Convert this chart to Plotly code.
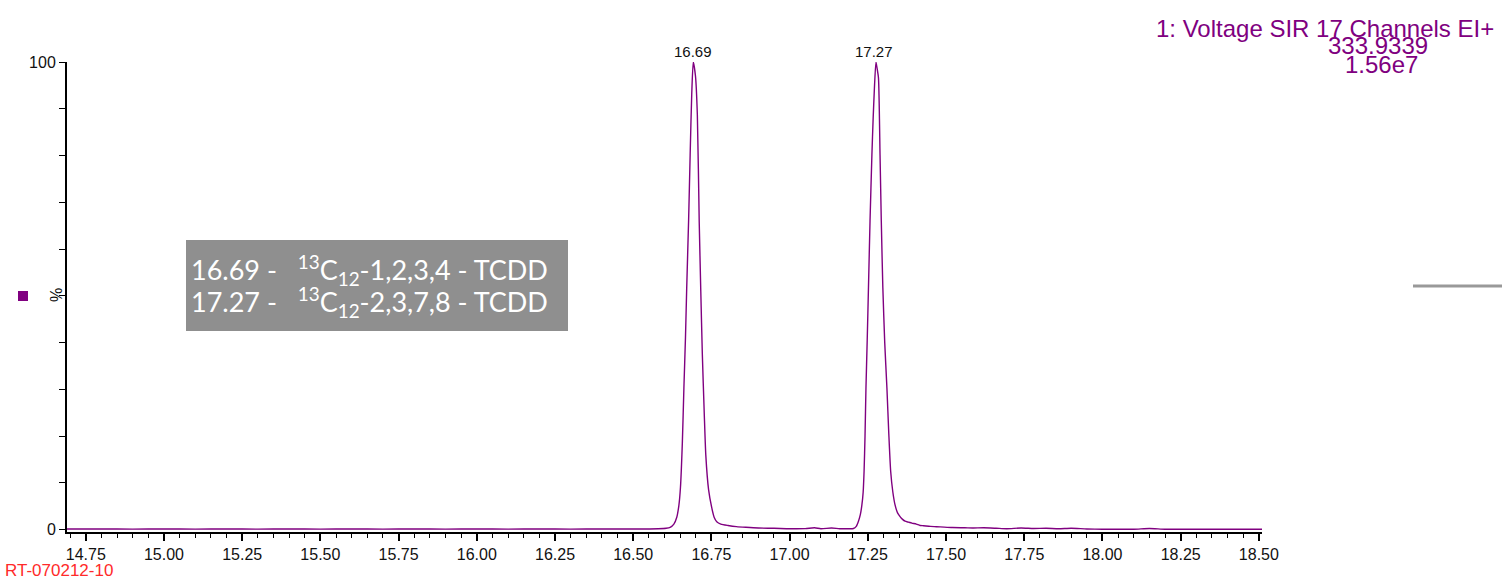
import plotly.graph_objects as go

# Retention time (min) and relative intensity (%) of the SIR chromatogram trace
rt = [14.69, 14.80, 14.90, 15.00, 15.10, 15.20, 15.30, 15.40, 15.50, 15.60,
      15.70, 15.80, 15.90, 16.00, 16.10, 16.20, 16.30, 16.40, 16.50, 16.58,
      16.605, 16.618, 16.630, 16.639, 16.646, 16.651, 16.657, 16.662, 16.667,
      16.671, 16.677, 16.682, 16.687, 16.692, 16.699, 16.705, 16.711, 16.716,
      16.721, 16.727, 16.732, 16.741, 16.751, 16.759, 16.767, 16.780, 16.803,
      16.830, 16.860, 16.900, 16.950, 17.000, 17.050, 17.080, 17.100, 17.134,
      17.160, 17.190, 17.204, 17.213, 17.220, 17.226, 17.231, 17.235, 17.238,
      17.241, 17.244, 17.248, 17.252, 17.257, 17.263, 17.267, 17.271, 17.276,
      17.280, 17.284, 17.289, 17.293, 17.298, 17.304, 17.311, 17.317, 17.323,
      17.330, 17.337, 17.345, 17.353, 17.361, 17.369, 17.380, 17.391, 17.405,
      17.417, 17.428, 17.450, 17.481, 17.520, 17.560, 17.586, 17.620, 17.660,
      17.694, 17.740, 17.780, 17.820, 17.860, 17.900, 17.950, 18.000, 18.100,
      18.150, 18.200, 18.300, 18.400, 18.510]
intensity = [0.15, 0.15, 0.12, 0.15, 0.12, 0.15, 0.12, 0.15, 0.12, 0.15,
             0.12, 0.15, 0.12, 0.15, 0.12, 0.15, 0.12, 0.15, 0.15, 0.20,
             0.30, 0.50, 1.2, 2.6, 5.2, 9.0, 18.5, 30.3, 41.0,
             51.7, 66.0, 80.1, 93.0, 100.0, 97.0, 88.7, 65.8, 51.0,
             37.4, 25.0, 16.0, 8.5, 4.7, 2.6, 1.7, 1.2, 0.9,
             0.65, 0.50, 0.35, 0.30, 0.20, 0.22, 0.40, 0.20, 0.35,
             0.20, 0.20, 0.25, 0.70, 1.8, 3.2, 5.3, 8.0, 12.5,
             20.0, 30.3, 40.5, 51.7, 66.0, 80.1, 88.0, 94.4, 100.0,
             98.5, 96.6, 80.1, 66.0, 51.7, 40.0, 30.3, 20.5, 12.5,
             8.0, 5.3, 3.6, 2.8, 2.2, 1.8, 1.6, 1.4, 1.2,
             0.9, 0.85, 0.70, 0.60, 0.45, 0.40, 0.35, 0.40, 0.30,
             0.20, 0.35, 0.25, 0.30, 0.20, 0.30, 0.15, 0.10, 0.10,
             0.25, 0.10, 0.08, 0.08, 0.08]

# Peak apex labels
peak_rt = [16.69, 17.27]
peak_labels = ["16.69", "17.27"]

# Axis ticks
x_major = [14.75, 15.00, 15.25, 15.50, 15.75, 16.00, 16.25, 16.50, 16.75,
           17.00, 17.25, 17.50, 17.75, 18.00, 18.25, 18.50]
y_ticks = [0, 10, 20, 30, 40, 50, 60, 70, 80, 90, 100]
y_ticktext = ["0", "", "", "", "", "", "", "", "", "", "100"]

# Header and compound key
header_lines = ["1: Voltage SIR 17 Channels EI+", "333.9339", "1.56e7"]
key_lines = ["16.69 -\u00a0\u00a0\u00a0<sup>13</sup>C<sub>12</sub>-1,2,3,4 - TCDD",
             "17.27 -\u00a0\u00a0\u00a0<sup>13</sup>C<sub>12</sub>-2,3,7,8 - TCDD"]
sample_id = "RT-070212-10"

PURPLE = "#800080"
W, H = 1502, 579
L, R, T, B = 67, 240, 62, 47
PW, PH = W - L - R, H - T - B


def px(xp):
    return (xp - L) / PW


def py(yp):
    return (H - B - yp) / PH


fig = go.Figure()
fig.add_trace(go.Scatter(
    x=rt, y=intensity, mode="lines",
    line=dict(color=PURPLE, width=1.4, shape="spline", smoothing=0.6),
    hoverinfo="skip", showlegend=False,
))

# Peak apex annotations
for xv, lab in zip(peak_rt, peak_labels):
    fig.add_annotation(x=xv, y=100, text=lab, showarrow=False, yanchor="bottom",
                       yshift=0, font=dict(family="Liberation Sans", size=15, color="#111"))

# Header text (top right)
fig.add_annotation(x=px(1496), y=py(28), xref="paper", yref="paper", text=header_lines[0],
                   showarrow=False, xanchor="right", yanchor="middle",
                   font=dict(family="Liberation Sans", size=24, color=PURPLE))
fig.add_annotation(x=px(1378), y=py(46), xref="paper", yref="paper", text=header_lines[1],
                   showarrow=False, xanchor="center", yanchor="middle",
                   font=dict(family="Liberation Sans", size=24, color=PURPLE))
fig.add_annotation(x=px(1381), y=py(65), xref="paper", yref="paper", text=header_lines[2],
                   showarrow=False, xanchor="center", yanchor="middle",
                   font=dict(family="Liberation Sans", size=24, color=PURPLE))

# Compound key box
fig.add_shape(type="rect", xref="paper", yref="paper",
              x0=px(186), x1=px(568), y0=py(331), y1=py(240),
              fillcolor="#8f8f8f", line=dict(width=0), layer="above")
for i, line in enumerate(key_lines):
    fig.add_annotation(x=px(189), y=py(270 + 32 * i), xref="paper", yref="paper", text=line,
                       showarrow=False, xanchor="left", yanchor="middle",
                       font=dict(family="Lato", size=27, color="white"))

# Y axis caption and channel marker
fig.add_annotation(x=px(56), y=py(295), xref="paper", yref="paper", text="%", textangle=-90,
                   showarrow=False, xanchor="center", yanchor="middle",
                   font=dict(family="Liberation Sans", size=16, color="#111"))
fig.add_shape(type="rect", xref="paper", yref="paper",
              x0=px(18), x1=px(28), y0=py(301), y1=py(291),
              fillcolor=PURPLE, line=dict(width=0))

# Grey marker on the right edge
fig.add_shape(type="line", xref="paper", yref="paper",
              x0=px(1413), x1=px(1502), y0=py(286), y1=py(286),
              line=dict(color="#999999", width=3))

# Sample identifier
fig.add_annotation(x=px(4), y=py(570), xref="paper", yref="paper", text=sample_id,
                   showarrow=False, xanchor="left", yanchor="middle", borderpad=0,
                   font=dict(family="Liberation Sans", size=17, color="#ff2a2a"))

fig.update_layout(
    width=W, height=H,
    margin=dict(l=L, r=R, t=T, b=B),
    paper_bgcolor="white", plot_bgcolor="white",
    font=dict(family="Liberation Sans", color="#111"),
    xaxis=dict(
        range=[14.69, 18.51], tickvals=x_major, ticktext=[f"{v:.2f}" for v in x_major],
        ticks="outside", ticklen=7, tickwidth=1.5, tickcolor="black",
        showline=True, linecolor="black", linewidth=2, showgrid=False, zeroline=False,
        tickfont=dict(size=16, color="#111"),
        minor=dict(dtick=0.05, tick0=14.75, ticks="outside", ticklen=4, tickwidth=1, tickcolor="black"),
    ),
    yaxis=dict(
        range=[-0.5, 100], tickvals=y_ticks, ticktext=y_ticktext,
        ticks="outside", ticklen=6, tickwidth=1, tickcolor="black",
        showline=True, linecolor="black", linewidth=2, showgrid=False, zeroline=False,
        tickfont=dict(size=16, color="#111"),
    ),
)

fig.write_html("out.html")
